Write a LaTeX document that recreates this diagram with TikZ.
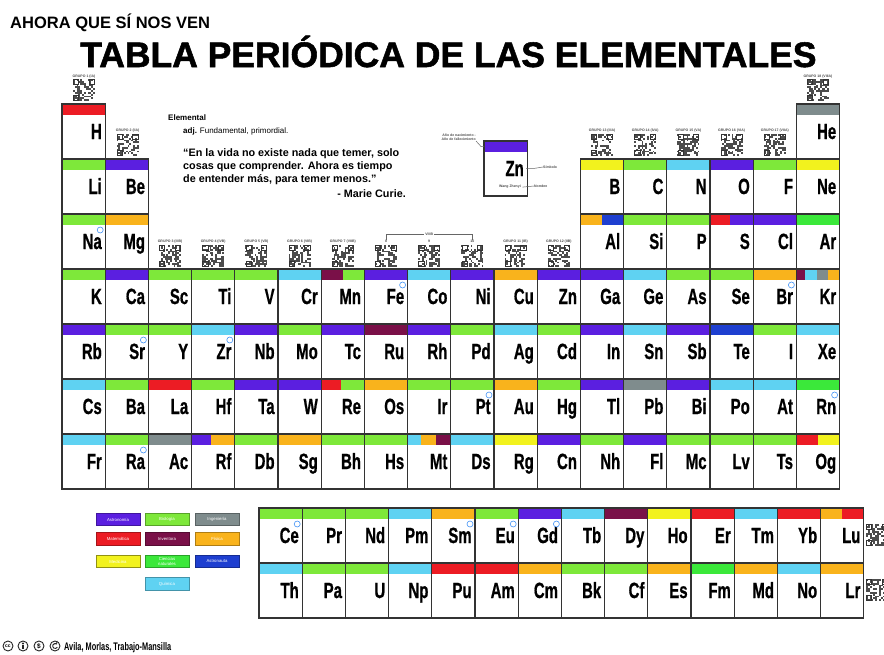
\documentclass[tikz,border=0pt]{standalone}
\usepackage{fontspec}
\setmainfont{Liberation Sans}
\newfontfamily\heavyfont[FakeBold=1.5]{Liberation Sans Bold}
\newfontfamily\symfont[FakeBold=1]{Liberation Sans Bold}
\usepackage{graphicx}
\usetikzlibrary{positioning,calc}

\definecolor{astro}{HTML}{5B1FE0}
\definecolor{bio}{HTML}{7EE83A}
\definecolor{inge}{HTML}{7F8C8D}
\definecolor{mate}{HTML}{EC1C24}
\definecolor{inve}{HTML}{7A1048}
\definecolor{fisi}{HTML}{F9B31C}
\definecolor{medi}{HTML}{F2F21E}
\definecolor{natu}{HTML}{3BE83A}
\definecolor{nauta}{HTML}{1E3FD0}
\definecolor{quim}{HTML}{5FD2F2}

\pgfdeclarelayer{hdr}
\pgfsetlayers{hdr,main}

\newcommand{\cw}{43.2}
\newcommand{\hh}{11}

\tikzstyle{cell} = [rectangle, draw=black!80, line width=1.1pt, minimum width=43.2pt, minimum height=55pt, anchor=north west, inner sep=0pt, outer sep=0pt]
\tikzstyle{sym} = [anchor=base east, inner sep=0pt, font=\fontsize{22}{22}\symfont]
\tikzstyle{badge} = [draw=quim!70!blue, fill=white, line width=0.6pt]
\tikzstyle{grp} = [inner sep=0pt, text=black!70, font=\fontsize{3.5}{4}\selectfont\bfseries]
\tikzstyle{legbox} = [rectangle, minimum width=44pt, minimum height=12.5pt, inner sep=0pt, line width=0.8pt, text=white, align=center, font=\fontsize{4.3}{4.8}\selectfont]
\tikzstyle{ccicon} = [circle, draw=black!85, line width=0.9pt, minimum size=10pt, inner sep=0pt]

% one element: x, y (top left), symbol, colour of the bar
\newcommand{\elem}[4]{%
  \begin{pgfonlayer}{hdr}
    \fill[#4] ({#1},{#2}) rectangle ++(\cw,\hh);
  \end{pgfonlayer}
  \node[cell] (el-#3) at ({#1},{#2}) {};
  \node[sym] (sy-#3) at ({#1+40},{#2+35}) {\scalebox{.68}[1]{#3}};
}
% part of a bar in a second colour
\newcommand{\hsplit}[4]{%
  \begin{pgfonlayer}{hdr}
    \fill[#4] ($(el-#1.north west)!#2!(el-#1.north east)$) rectangle ($(el-#1.north west)!#3!(el-#1.north east)+(0,\hh)$);
  \end{pgfonlayer}
}

\tikzset{qrcode/.pic={
  \foreach \i in {0,...,11}{\foreach \j in {0,...,11}{
    \pgfmathrandominteger{\q}{0}{1}
    \ifnum\q=1 \fill[black!70] (-11+\i*1.833,-11+\j*1.833) rectangle ++(1.833,1.833);\fi
  }}
  \foreach \a/\b in {-11/-11,4.6/-11,-11/4.6}
    {\draw[black!80, line width=1pt] (\a+0.6,\b+0.6) rectangle ++(5.2,5.2);}
}}

\begin{document}
\begin{tikzpicture}[x=1pt,y=-1pt]
\pgfmathsetseed{11}
\useasboundingbox (0,0) rectangle (884,654);
\begin{pgfonlayer}{hdr}
  \fill[white] (0,0) rectangle (884,654);
\end{pgfonlayer}

% titles
\node[anchor=base west, inner sep=0pt, font=\fontsize{16.5}{16.5}\selectfont\bfseries] (subtitle) at (10,28) {AHORA QUE SÍ NOS VEN};
\node[anchor=base west, inner sep=0pt, font=\fontsize{35.5}{35.5}\heavyfont] (title) at (80,67) {TABLA PERIÓDICA DE LAS ELEMENTALES};

% definition and quote
\node[anchor=base west, inner sep=0pt, font=\fontsize{8}{8}\selectfont\bfseries] (def) at (168,120) {Elemental};
\node[anchor=base west, inner sep=0pt, font=\fontsize{8}{8}\selectfont] (adj) at (183,133) {\textbf{adj.} Fundamental, primordial.};
\node[anchor=north west, inner sep=0pt, font=\fontsize{10.8}{13}\selectfont\bfseries, align=left] (quote) at (183,148)
  {“En la vida no existe nada que temer, solo\\cosas que comprender. Ahora es tiempo\\de entender más, para temer menos.”};
\node[anchor=base east, inner sep=0pt, font=\fontsize{10.8}{13}\selectfont\bfseries] (curie) at (406,197) {- Marie Curie.};

% period 1 to 3
\foreach \cl/\sy/\hc in {1/H/mate,18/He/inge}
  {\elem{62+(\cl-1)*\cw}{104}{\sy}{\hc}}
\foreach \cl/\sy/\hc in {1/Li/bio,2/Be/astro,13/B/medi,14/C/bio,15/N/quim,16/O/astro,17/F/bio,18/Ne/medi}
  {\elem{62+(\cl-1)*\cw}{159}{\sy}{\hc}}
\foreach \cl/\sy/\hc in {1/Na/bio,2/Mg/fisi,13/Al/fisi,14/Si/bio,15/P/bio,16/S/mate,17/Cl/astro,18/Ar/natu}
  {\elem{62+(\cl-1)*\cw}{214}{\sy}{\hc}}
% period 4 to 7
\foreach \sy/\hc [count=\cl] in {K/bio,Ca/astro,Sc/bio,Ti/bio,V/bio,Cr/quim,Mn/inve,Fe/astro,Co/quim,Ni/astro,Cu/fisi,Zn/astro,Ga/astro,Ge/quim,As/bio,Se/bio,Br/fisi,Kr/inve}
  {\elem{62+(\cl-1)*\cw}{269}{\sy}{\hc}}
\foreach \sy/\hc [count=\cl] in {Rb/astro,Sr/bio,Y/bio,Zr/quim,Nb/astro,Mo/bio,Tc/astro,Ru/inve,Rh/astro,Pd/bio,Ag/quim,Cd/bio,In/astro,Sn/quim,Sb/astro,Te/nauta,I/bio,Xe/quim}
  {\elem{62+(\cl-1)*\cw}{324}{\sy}{\hc}}
\foreach \sy/\hc [count=\cl] in {Cs/quim,Ba/bio,La/mate,Hf/bio,Ta/astro,W/astro,Re/mate,Os/fisi,Ir/bio,Pt/bio,Au/fisi,Hg/bio,Tl/astro,Pb/inge,Bi/astro,Po/quim,At/quim,Rn/natu}
  {\elem{62+(\cl-1)*\cw}{379}{\sy}{\hc}}
\foreach \sy/\hc [count=\cl] in {Fr/quim,Ra/bio,Ac/inge,Rf/astro,Db/bio,Sg/fisi,Bh/bio,Hs/bio,Mt/quim,Ds/quim,Rg/medi,Cn/astro,Nh/bio,Fl/astro,Mc/bio,Lv/bio,Ts/bio,Og/mate}
  {\elem{62+(\cl-1)*\cw}{434}{\sy}{\hc}}
% lanthanides and actinides
\foreach \sy/\hc [count=\cl from 0] in {Ce/bio,Pr/bio,Nd/bio,Pm/quim,Sm/fisi,Eu/bio,Gd/astro,Tb/quim,Dy/inve,Ho/medi,Er/mate,Tm/quim,Yb/mate,Lu/fisi}
  {\elem{259+\cl*\cw}{508}{\sy}{\hc}}
\foreach \sy/\hc [count=\cl from 0] in {Th/quim,Pa/bio,U/bio,Np/quim,Pu/mate,Am/mate,Cm/fisi,Bk/bio,Cf/bio,Es/fisi,Fm/natu,Md/fisi,No/quim,Lr/fisi}
  {\elem{259+\cl*\cw}{563}{\sy}{\hc}}

% bars with two or more colours
\hsplit{Al}{.5}{1}{nauta}
\hsplit{S}{.47}{1}{astro}
\hsplit{Mn}{.5}{1}{bio}
\hsplit{Kr}{.2}{.48}{quim}
\hsplit{Kr}{.48}{.72}{inge}
\hsplit{Kr}{.72}{1}{fisi}
\hsplit{Re}{.45}{1}{bio}
\hsplit{Rf}{.45}{1}{fisi}
\hsplit{Mt}{.3}{.65}{fisi}
\hsplit{Mt}{.65}{1}{inve}
\hsplit{Og}{.5}{1}{medi}
\hsplit{Lu}{.5}{1}{mate}

\foreach \sy in {Na,Sr,Zr,Fe,Ra,Br,Pt,Rn,Ce,Sm,Eu,Gd}
  {\draw[badge] ($(el-\sy.north east)+(-5,16)$) circle (3);}

% group codes
\pic (qr1) at (84,90) {qrcode};
\node[grp] (g1) at (84,76.5) {GRUPO 1 (IA)};
\pic (qr2) at (127.6,145) {qrcode};
\node[grp] (g2) at (127.6,131) {GRUPO 2 (IIA)};
\pic (qr18) at (818,90) {qrcode};
\node[grp] (g18) at (818,76.5) {GRUPO 18 (VIIIA)};
\foreach \cl/\gr in {3/IIIB,4/IVB,5/VB,6/VIB,7/VIIB,11/IB,12/IIB}
  {\pic (qr\cl) at ({62+(\cl-0.5)*\cw},256) {qrcode};
   \node[grp] (g\cl) at ({62+(\cl-0.5)*\cw},242) {GRUPO \cl{} (\gr)};}
\foreach \cl in {8,9,10}
  {\pic (qr\cl) at ({62+(\cl-0.5)*\cw},256) {qrcode};
   \node[grp] (g\cl) at ({62+(\cl-0.5)*\cw},241.5) {\cl};}
\foreach \cl/\gr in {13/IIIA,14/IVA,15/VA,16/VIA,17/VIIA}
  {\pic (qr\cl) at ({62+(\cl-0.5)*\cw},145) {qrcode};
   \node[grp] (g\cl) at ({62+(\cl-0.5)*\cw},131) {GRUPO \cl{} (\gr)};}
\node[grp, fill=white, inner sep=1pt] (g8b) at ($(g8)!.5!(g10)+(0,-7.5)$) {VIIIB};
\draw[black!60, line width=0.5pt] (g8.north) -- (g8.north |- g8b) -- (g8b.west) (g8b.east) -- (g10.north |- g8b) -- (g10.north);
\pic (qrLu) at (877,535) {qrcode};
\pic (qrLr) at (877,590) {qrcode};

% key cell
\begin{pgfonlayer}{hdr}
  \fill[astro] (484,141) rectangle ++(\cw,\hh);
\end{pgfonlayer}
\node[cell] (key) at (484,141) {};
\node[sym] (key-sym) at (524,176) {\scalebox{.68}[1]{Zn}};
\node[grp, anchor=base east] (key-name) at (521,187) {Wang Zhenyi};
\node[grp, anchor=south east, align=right] (key-years) at (476,141) {Año de nacimiento -\\Año de fallecimiento};
\node[grp, anchor=west] (key-simb) at (543,167) {Símbolo};
\node[grp, anchor=west] (key-nomb) at (534,186) {Nombre};
\draw[black!60, line width=0.5pt] (key-years.south east) -- ($(key.north west)+(-3,5.5)$) -- ($(key.north west)+(0,5.5)$);
\draw[black!60, line width=0.5pt] (key-sym.east) ++(2,0) -- ++(8,0) -- (key-simb.west);
\draw[black!60, line width=0.5pt] (key-name.east) ++(1.5,1) -- (key-nomb.west);

% legend
\node[legbox, fill=astro, draw=astro!70!black] (lg-astro) at (118,519.5) {Astronomía};
\node[legbox, fill=bio, draw=bio!70!black] (lg-bio) at (167,519.5) {Biología};
\node[legbox, fill=inge, draw=inge!70!black] (lg-inge) at (217,519.5) {Ingeniería};
\node[legbox, fill=mate, draw=mate!70!black] (lg-mate) at (118,539) {Matemática};
\node[legbox, fill=inve, draw=inve!70!black] (lg-inve) at (167,539) {Inventora};
\node[legbox, fill=fisi, draw=fisi!70!black] (lg-fisi) at (217,539) {Física};
\node[legbox, fill=medi, draw=medi!60!black] (lg-medi) at (118,561.5) {Medicina};
\node[legbox, fill=natu, draw=natu!70!black] (lg-natu) at (167,561.5) {Ciencias\\naturales};
\node[legbox, fill=nauta, draw=nauta!70!black] (lg-nauta) at (217,561.5) {Astronauta};
\node[legbox, fill=quim, draw=quim!70!black] (lg-quim) at (167,584) {Química};

% licence icons and authors
\foreach \x [count=\i] in {8,23,39,55}
  {\node[ccicon] (cc\i) at (\x,646) {};}
\node[inner sep=0pt, font=\fontsize{5}{5}\selectfont\bfseries] at (cc1) {cc};
\fill[black!85] ($(cc2.center)+(0,-2.6)$) circle (1.1);
\fill[black!85] ($(cc2.center)+(-1.3,-1)$) rectangle ($(cc2.center)+(1.3,3.2)$);
\node[inner sep=0pt, font=\fontsize{6.5}{6.5}\selectfont\bfseries] at (cc3) {\$};
\draw[black!85, line width=0.9pt, ->] ($(cc4.center)+(2.3,1.2)$) arc[start angle=30, end angle=320, radius=2.5];
\node[anchor=base west, inner sep=0pt, font=\fontsize{11}{11}\selectfont\bfseries] (autoras) at (64,650) {\scalebox{.67}[1]{Avila, Morlas, Trabajo-Mansilla}};
\end{tikzpicture}
\end{document}
